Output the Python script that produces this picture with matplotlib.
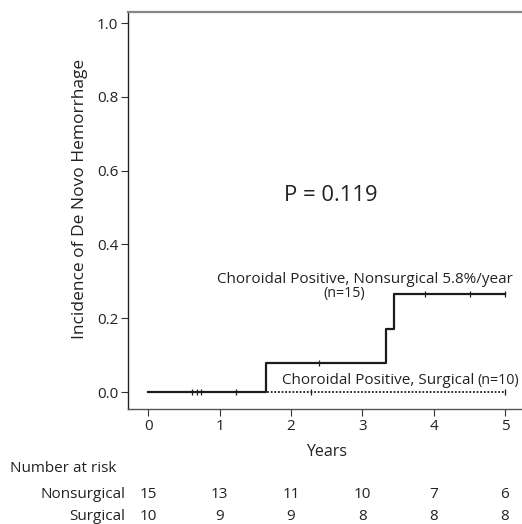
import numpy as np
import matplotlib
matplotlib.use("Agg")
import matplotlib.pyplot as plt
from matplotlib.transforms import blended_transform_factory

plt.rcParams['font.family'] = ['Open Sans', 'DejaVu Sans']

# ---- data ----
nonsurg_times = [0.0, 1.65, 3.33, 3.45, 5.0]
nonsurg_incidence = [0.0, 0.08, 0.17, 0.265, 0.265]
nonsurg_censor_times = [0.61, 0.68, 0.74, 1.23, 2.40, 3.88, 4.51, 5.0]

surg_times = [0.0, 5.0]
surg_incidence = [0.0, 0.0]
surg_censor_times = [2.28, 5.0]

risk_times = [0, 1, 2, 3, 4, 5]
nonsurg_risk = [15, 13, 11, 10, 7, 6]
surg_risk = [10, 9, 9, 8, 8, 8]
risk_labels = ["Nonsurgical", "Surgical"]

x_ticks = [0, 1, 2, 3, 4, 5]
y_ticks = [0.0, 0.2, 0.4, 0.6, 0.8, 1.0]

W, H = 522, 524
fig = plt.figure(figsize=(W / 100, H / 100), dpi=100)
ax = fig.add_axes([128 / W, 1 - 409 / H, 1 - 128 / W, (409 - 12) / H])

def step_val(times, vals, t):
    idx = np.searchsorted(times, t, side='right') - 1
    return vals[max(idx, 0)]

ink = '#1c1c1c'
txt = '#222222'
ax.step(nonsurg_times, nonsurg_incidence, where='post', color=ink, lw=1.6)
ax.plot(nonsurg_censor_times,
        [step_val(nonsurg_times, nonsurg_incidence, t) for t in nonsurg_censor_times],
        ls='none', marker='|', ms=5, mew=0.9, color=ink)
ax.step(surg_times, surg_incidence, where='post', color=ink, lw=1.3, ls=(0, (1, 1)))
ax.plot(surg_censor_times,
        [step_val(surg_times, surg_incidence, t) for t in surg_censor_times],
        ls='none', marker='|', ms=5, mew=0.9, color=ink)

ax.set_xlim(-0.285, 5.24)
ax.set_ylim(-0.046, 1.03)
ax.set_xticks(x_ticks)
ax.set_xticklabels([str(v) for v in x_ticks])
ax.set_yticks(y_ticks)
ax.set_yticklabels([f"{v:.1f}" for v in y_ticks])
ax.tick_params(axis='both', labelsize=11, length=5, width=0.8, color='#333333',
               labelcolor=txt, pad=2)

ax.spines['right'].set_visible(False)
ax.spines['top'].set_color('#888480')
ax.spines['top'].set_linewidth(1.6)
ax.spines['left'].set_color('#222222')
ax.spines['left'].set_linewidth(1.0)
ax.spines['bottom'].set_color('#555555')
ax.spines['bottom'].set_linewidth(1.0)

ax.set_ylabel("Incidence of De Novo Hemorrhage", fontsize=12.5, color=txt)
ax.yaxis.set_label_coords((88 - 128) / (W - 128), (409 - 199) / 397)

# annotations
ax.text(2.56, 0.534, "P = 0.119", fontsize=15.8, ha='center', va='center', color=txt)
ax.text(3.04, 0.306, "Choroidal Positive, Nonsurgical 5.8%/year", fontsize=11,
        ha='center', va='center', color=txt)
ax.text(2.745, 0.268, "(n=15)", fontsize=10.3, ha='center', va='center', color=txt)
ax.text(1.88, 0.030, "Choroidal Positive, Surgical", fontsize=11,
        ha='left', va='center', color=txt)
ax.text(4.61, 0.030, "(n=10)", fontsize=10.3, ha='left', va='center', color=txt)

# x label and risk table
tr = blended_transform_factory(ax.transData, fig.transFigure)
fig.text(2.5, 1 - 452 / H, "Years", transform=tr, fontsize=11.5, ha='center',
         va='center', color=txt)
fig.text(10 / W, 1 - 469 / H, "Number at risk", fontsize=11, ha='left',
         va='center', color=txt)
for row_y, lab, counts in [(494, risk_labels[0], nonsurg_risk),
                           (516, risk_labels[1], surg_risk)]:
    fig.text(125 / W, 1 - row_y / H, lab, fontsize=11, ha='right', va='center',
             color=txt)
    for t, c in zip(risk_times, counts):
        fig.text(t, 1 - row_y / H, str(c), transform=tr, fontsize=11,
                 ha='center', va='center', color=txt)

fig.savefig("out.png", dpi=100)
